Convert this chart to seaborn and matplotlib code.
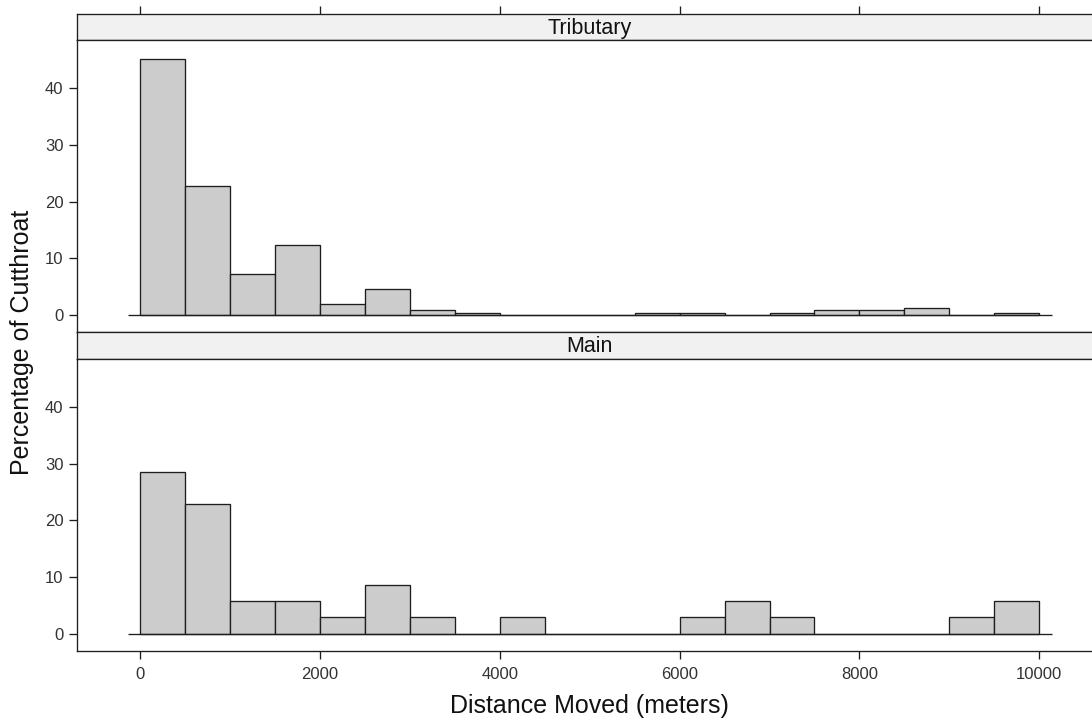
import matplotlib
matplotlib.use("Agg")
import matplotlib.pyplot as plt
import seaborn as sns
import pandas as pd

# ---- data (percent of fish per 500 m distance bin) ----
bin_width = 500
bin_starts = [0, 500, 1000, 1500, 2000, 2500, 3000, 3500, 4000, 4500,
              5000, 5500, 6000, 6500, 7000, 7500, 8000, 8500, 9000, 9500]
tributary_pct = [45.2, 22.7, 7.3, 12.3, 2.0, 4.5, 0.8, 0.4, 0.0, 0.0,
                 0.0, 0.4, 0.4, 0.0, 0.4, 0.8, 0.8, 1.2, 0.0, 0.4]
main_pct = [28.6, 22.9, 5.7, 5.7, 2.9, 8.6, 2.9, 0.0, 2.9, 0.0,
            0.0, 0.0, 2.9, 5.7, 2.9, 0.0, 0.0, 0.0, 2.9, 5.7]
panels = ["Tributary", "Main"]
x_ticks = [0, 2000, 4000, 6000, 8000, 10000]
y_ticks = [0, 10, 20, 30, 40]
x_label = "Distance Moved (meters)"
y_label = "Percentage of Cutthroat"

sns.set_theme(style="white")
plt.rcParams["font.family"] = ["Liberation Sans", "DejaVu Sans"]

W, H = 1092, 719
fig = plt.figure(figsize=(W / 100, H / 100), dpi=100)
fig.patch.set_facecolor("white")

XLIM = (-704, 10704)
YLIM = (-3.05, 48.5)
FRAME = "#1e1e1e"
LW = 0.95
TICKC = "#333333"


def px_axes(top, bottom, left=76.7, right=1102.6):
    return fig.add_axes([left / W, 1 - bottom / H, (right - left) / W, (bottom - top) / H])


def style_frame(ax):
    for s in ax.spines.values():
        s.set_color(FRAME)
        s.set_linewidth(LW)
        s.set_visible(True)


strip_pos = [(14, 40), (332.3, 359)]
panel_pos = [(40, 332.3), (359, 651)]

edges = bin_starts + [bin_starts[-1] + bin_width]
df = pd.DataFrame({
    "start": bin_starts * 2,
    "pct": tributary_pct + main_pct,
    "panel": [panels[0]] * len(bin_starts) + [panels[1]] * len(bin_starts),
})
df["mid"] = df["start"] + bin_width / 2

for i, name in enumerate(panels):
    # strip
    sax = px_axes(*strip_pos[i])
    sax.set_facecolor("#f1f1f1")
    sax.set_xlim(XLIM)
    sax.set_ylim(0, 1)
    sax.set_yticks([])
    style_frame(sax)
    sax.text(0.5, 0.45, name, transform=sax.transAxes, ha="center", va="center",
             fontsize=15.5, color="#111111")
    if i == 0:
        sax.xaxis.set_ticks_position("top")
        sax.set_xticks(x_ticks)
        sax.set_xticklabels([])
        sax.tick_params(axis="x", direction="out", length=5.5, width=LW, color=FRAME, top=True, bottom=False)
    else:
        sax.set_xticks([])

    # panel
    ax = px_axes(*panel_pos[i])
    ax.set_facecolor("white")
    sub = df[df["panel"] == name]
    sns.histplot(data=sub, x="mid", weights="pct", bins=edges, stat="count",
                 color="#cccccc", edgecolor="#1e1e1e", linewidth=0.95, alpha=1.0, ax=ax)
    ax.hlines(0, -136, 10136, color=FRAME, linewidth=LW, zorder=3)
    ax.set_xlim(XLIM)
    ax.set_ylim(YLIM)
    ax.set_xlabel("")
    ax.set_ylabel("")
    style_frame(ax)
    ax.set_yticks(y_ticks)
    ax.tick_params(axis="y", direction="out", length=5.5, width=LW, color=FRAME,
                   left=True, labelsize=12, labelcolor=TICKC, pad=4)
    if i == 1:
        ax.set_xticks(x_ticks)
        ax.set_xticklabels([str(t) for t in x_ticks])
        ax.tick_params(axis="x", direction="out", length=5.5, width=LW, color=FRAME,
                       bottom=True, labelsize=12, labelcolor=TICKC, pad=6)
    else:
        ax.set_xticks([])

fig.text(589.6 / W, 1 - 706 / H, x_label, ha="center", va="center", fontsize=18, color="#111111")
fig.text(22 / W, 1 - 342 / H, y_label, ha="center", va="center", rotation=90,
         fontsize=18, color="#111111")

fig.savefig("out.png", dpi=100, facecolor="white")
